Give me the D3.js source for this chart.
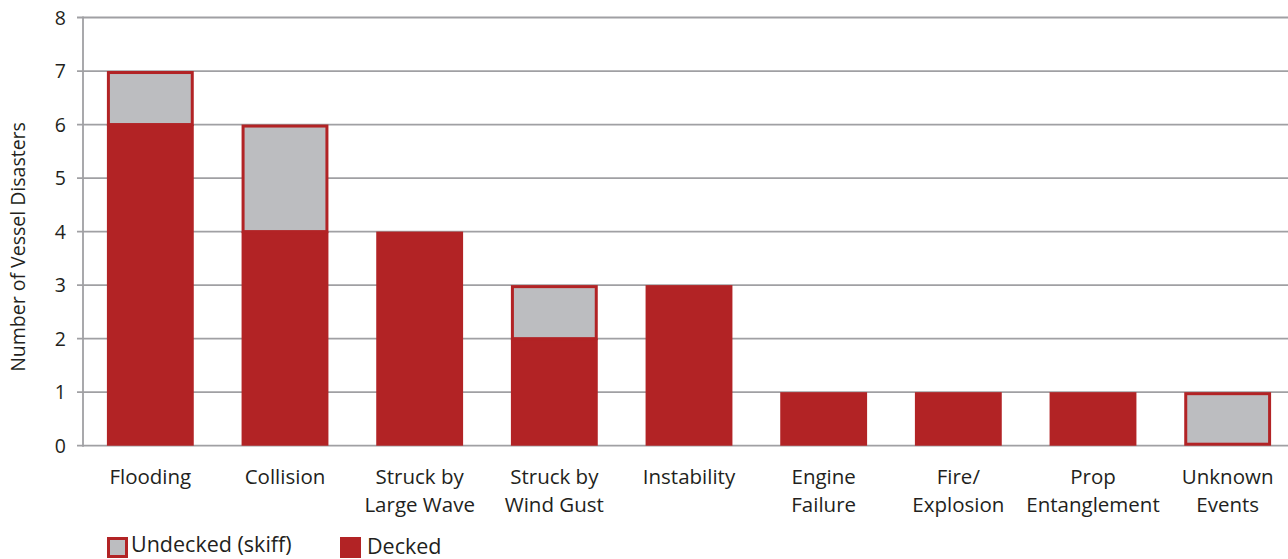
<!DOCTYPE html>
<html><head><meta charset="utf-8">
<script src="https://cdn.jsdelivr.net/npm/d3@7"></script>
<style>body{margin:0;background:#fff}svg{display:block}text{font-family:"Open Sans",sans-serif;fill:#231f20}</style>
</head><body><svg id="c" width="1288" height="559"></svg>
<script>
const categories = [["Flooding"],["Collision"],["Struck by","Large Wave"],["Struck by","Wind Gust"],["Instability"],["Engine","Failure"],["Fire/","Explosion"],["Prop","Entanglement"],["Unknown","Events"]];
const decked = [6,4,4,2,3,1,1,1,0];
const undecked = [1,2,0,1,0,0,0,0,1];
const yTicks = [0,1,2,3,4,5,6,7,8];
const seriesNames = ["Undecked (skiff)","Decked"];

const RED="#b22325", GRAY="#bcbdc0", GRID="#a0a0a3";
const svg=d3.select("#c");
const x=d3.scaleBand().domain(d3.range(categories.length)).range([83,1295]).paddingInner(0.355).paddingOuter(0.1775);
const y=d3.scaleLinear().domain([0,8]).range([445.7,17.5]);

svg.append("g").selectAll("line").data(yTicks).join("line")
 .attr("x1",77).attr("x2",1288).attr("y1",d=>y(d)).attr("y2",d=>y(d))
 .attr("stroke",GRID).attr("stroke-width",1.8);
svg.append("line").attr("x1",83).attr("x2",83).attr("y1",y(8)-1).attr("y2",y(0)+1).attr("stroke",GRID).attr("stroke-width",1.8);
svg.append("g").selectAll("text").data(yTicks).join("text")
 .attr("x",66).attr("y",d=>y(d)).attr("dy","0.36em").attr("text-anchor","end").attr("font-size",19.5).text(d=>d);

svg.append("text").attr("transform","translate(25,247) rotate(-90)").attr("text-anchor","middle").attr("font-size",19.5).text("Number of Vessel Disasters");

const bw=x.bandwidth();
svg.append("g").selectAll("rect").data(decked.map((v,i)=>({v,i})).filter(d=>d.v>0)).join("rect")
 .attr("x",d=>x(d.i)).attr("width",bw).attr("y",d=>y(d.v)).attr("height",d=>y(0)-y(d.v)).attr("fill",RED);
svg.append("g").selectAll("rect").data(undecked.map((v,i)=>({v,i,b:decked[i]})).filter(d=>d.v>0)).join("rect")
 .attr("x",d=>x(d.i)+1.5).attr("width",bw-3).attr("y",d=>y(d.b+d.v)+1.5).attr("height",d=>y(d.b)-y(d.b+d.v)-(d.b>0?1.5:3))
 .attr("fill",GRAY).attr("stroke",RED).attr("stroke-width",3);

const lab=svg.append("g").selectAll("text").data(categories).join("text")
 .attr("text-anchor","middle").attr("font-size",20.5);
lab.each(function(d,i){
  const t=d3.select(this);
  d.forEach((s,j)=>t.append("tspan").attr("x",x(i)+bw/2).attr("y",484+j*28).text(s));
});

const lg=svg.append("g");
lg.append("rect").attr("x",108.5).attr("y",538.5).attr("width",18).attr("height",18).attr("fill",GRAY).attr("stroke",RED).attr("stroke-width",3);
lg.append("text").attr("x",131).attr("y",552).attr("font-size",21.5).text(seriesNames[0]);
lg.append("rect").attr("x",340).attr("y",537).attr("width",21).attr("height",21).attr("fill",RED);
lg.append("text").attr("x",367).attr("y",554).attr("font-size",21.5).text(seriesNames[1]);
</script></body></html>
